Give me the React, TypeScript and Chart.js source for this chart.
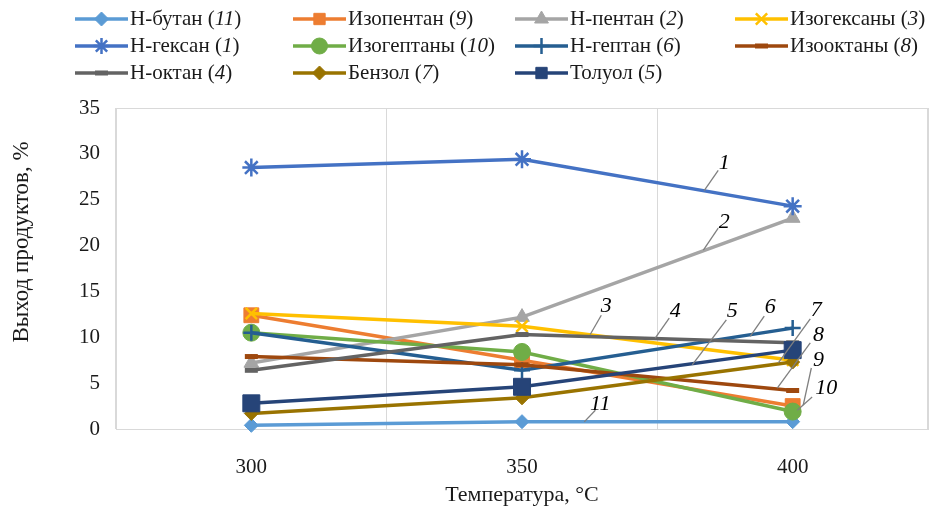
import React, { useEffect, useRef } from "react";
import { Chart, registerables } from "chart.js";
import { drawPoint } from "chart.js/helpers";

Chart.register(...registerables);

// ---------- data ----------
const temperatures = ["300", "350", "400"];

const seriesNames = [
  "Н-бутан", "Изопентан", "Н-пентан", "Изогексаны",
  "Н-гексан", "Изогептаны", "Н-гептан", "Изооктаны",
  "Н-октан", "Бензол", "Толуол",
];
const seriesNumbers = ["11", "9", "2", "3", "1", "10", "6", "8", "4", "7", "5"];

const nButane = [0.4, 0.8, 0.8];
const isopentane = [12.4, 7.5, 2.5];
const nPentane = [7.2, 12.2, 23.0];
const isohexanes = [12.6, 11.2, 7.5];
const nHexane = [28.5, 29.4, 24.3];
const isoheptanes = [10.5, 8.4, 1.9];
const nHeptane = [10.5, 6.4, 11.0];
const isooctanes = [7.9, 7.0, 4.2];
const nOctane = [6.4, 10.3, 9.4];
const benzene = [1.7, 3.4, 7.3];
const toluene = [2.8, 4.6, 8.6];

const seriesValues = [
  nButane, isopentane, nPentane, isohexanes, nHexane, isoheptanes,
  nHeptane, isooctanes, nOctane, benzene, toluene,
];

const yTicks = [0, 5, 10, 15, 20, 25, 30, 35];

// curve number labels: text, anchor (category index, value), leader start, leader end
const curveLabels = ["1", "2", "3", "4", "5", "6", "7", "8", "9", "10", "11"];
const labelTextPos = [
  [1.747, 29.0], [1.747, 22.6], [1.311, 13.4], [1.566, 12.8], [1.777, 12.8],
  [1.917, 13.3], [2.087, 13.0], [2.095, 10.25], [2.095, 7.5], [2.124, 4.5], [1.289, 2.7],
];
const leaderFrom = [
  [1.673, 26.0], [1.670, 19.5], [1.252, 10.3], [1.492, 9.9], [1.629, 7.0],
  [1.843, 10.1], [1.947, 7.2], [1.943, 4.45], [2.039, 2.6], [2.017, 2.05], [1.230, 0.78],
];
const leaderTo = [
  [1.725, 28.2], [1.725, 21.9], [1.293, 12.4], [1.544, 12.1], [1.755, 11.9],
  [1.895, 12.3], [2.065, 12.0], [2.065, 9.4], [2.069, 6.65], [2.072, 3.5], [1.271, 2.05],
];

// ---------- styles ----------
const colors = [
  "#5B9BD5", "#ED7D31", "#A5A5A5", "#FFC000", "#4472C4", "#70AD47",
  "#255E91", "#9E480E", "#636363", "#997300", "#264478",
];
const pointStyles = [
  "rectRot", "rect", "triangle", "crossRot", "star", "circle",
  "cross", "line", "line", "rectRot", "rect",
];
const pointRadii = [7, 10.5, 8.5, 8, 9, 8.5, 8, 6.5, 6.5, 7, 12];
const pointBorderWidths = [1, 1, 1, 2.5, 2.5, 1, 2.5, 5, 5, 1, 1];

const SERIF = "'Liberation Serif', 'Times New Roman', serif";
const TEXT_COLOR = "#1a1a1a";
const GRID_COLOR = "#d9d9d9";

const legendCols = [75, 293, 515, 735];
const legendRows = [19, 46, 73];

const frameAndLabelsPlugin = {
  id: "frameAndLabels",
  beforeDatasetsDraw(chart: any) {
    const { ctx, chartArea } = chart;
    ctx.save();
    ctx.strokeStyle = GRID_COLOR;
    ctx.lineWidth = 1;
    ctx.strokeRect(chartArea.left + 0.5, chartArea.top + 0.5, chartArea.right - chartArea.left - 1, chartArea.bottom - chartArea.top);
    ctx.restore();
  },
  afterDatasetsDraw(chart: any) {
    const { ctx } = chart;
    const xs = chart.scales.x;
    const ys = chart.scales.y;
    ctx.save();
    ctx.strokeStyle = "#7f7f7f";
    ctx.lineWidth = 1.3;
    ctx.fillStyle = "#000";
    ctx.font = `italic 22px ${SERIF}`;
    ctx.textAlign = "center";
    ctx.textBaseline = "middle";
    curveLabels.forEach((t, i) => {
      ctx.beginPath();
      ctx.moveTo(xs.getPixelForValue(leaderFrom[i][0]), ys.getPixelForValue(leaderFrom[i][1]));
      ctx.lineTo(xs.getPixelForValue(leaderTo[i][0]), ys.getPixelForValue(leaderTo[i][1]));
      ctx.stroke();
      ctx.fillText(t, xs.getPixelForValue(labelTextPos[i][0]), ys.getPixelForValue(labelTextPos[i][1]));
    });
    ctx.restore();
  },
  afterDraw(chart: any) {
    const { ctx } = chart;
    ctx.save();
    // legend
    ctx.textBaseline = "middle";
    ctx.textAlign = "left";
    seriesNames.forEach((name, i) => {
      const col = i % 4;
      const row = Math.floor(i / 4);
      const x0 = legendCols[col];
      const y = legendRows[row];
      const len = 53;
      ctx.strokeStyle = colors[i];
      ctx.lineWidth = 3.5;
      ctx.beginPath();
      ctx.moveTo(x0, y);
      ctx.lineTo(x0 + len, y);
      ctx.stroke();
      ctx.fillStyle = colors[i];
      ctx.strokeStyle = colors[i];
      ctx.lineWidth = pointBorderWidths[i];
      drawPoint(ctx, {
        pointStyle: pointStyles[i],
        radius: Math.min(pointRadii[i], 8),
        rotation: 0,
        borderWidth: pointBorderWidths[i],
      } as any, x0 + len / 2, y);
      let tx = x0 + len + 2;
      ctx.fillStyle = TEXT_COLOR;
      ctx.font = `21px ${SERIF}`;
      const a = name + " (";
      ctx.fillText(a, tx, y);
      tx += ctx.measureText(a).width;
      ctx.font = `italic 21px ${SERIF}`;
      ctx.fillText(seriesNumbers[i], tx, y);
      tx += ctx.measureText(seriesNumbers[i]).width;
      ctx.font = `21px ${SERIF}`;
      ctx.fillText(")", tx, y);
    });
    // y-axis title
    ctx.translate(22, 242);
    ctx.rotate(-Math.PI / 2);
    ctx.textAlign = "center";
    ctx.font = `23px ${SERIF}`;
    ctx.fillStyle = TEXT_COLOR;
    ctx.fillText("Выход продуктов, %", 0, 0);
    ctx.restore();
  },
};

export default function App() {
  const ref = useRef<HTMLCanvasElement | null>(null);

  useEffect(() => {
    document.body.style.margin = "0";
    document.body.style.overflow = "hidden";
    const canvas = ref.current;
    if (!canvas) return;
    const chart = new Chart(canvas, {
      type: "line",
      data: {
        labels: temperatures,
        datasets: seriesNames.map((name, i) => ({
          label: `${name} (${seriesNumbers[i]})`,
          data: seriesValues[i],
          borderColor: colors[i],
          backgroundColor: colors[i],
          borderWidth: 3.5,
          tension: 0,
          pointStyle: pointStyles[i] as any,
          pointRadius: pointRadii[i],
          pointBorderWidth: pointBorderWidths[i],
          pointBackgroundColor: colors[i],
          pointBorderColor: colors[i],
          order: -i,
          clip: false as any,
        })),
      },
      options: {
        responsive: false,
        animation: false,
        layout: { autoPadding: false, padding: { top: 108, right: 3, left: 0, bottom: 0 } },
        plugins: {
          legend: { display: false },
          tooltip: { enabled: false },
        },
        scales: {
          x: {
            type: "category",
            offset: true,
            grid: { offset: true, color: GRID_COLOR, drawTicks: false },
            border: { display: true, color: GRID_COLOR },
            ticks: { padding: 26, color: TEXT_COLOR, font: { family: SERIF, size: 21 } },
            title: {
              display: true,
              text: "Температура, °C",
              color: TEXT_COLOR,
              font: { family: SERIF, size: 22 },
              padding: { top: 0, bottom: 0 },
            },
            afterFit: (s: any) => { s.height = 79; s.paddingLeft = 0; s.paddingRight = 0; },
          },
          y: {
            type: "linear",
            min: 0,
            max: 35,
            afterBuildTicks: (s: any) => { s.ticks = yTicks.map((v) => ({ value: v })); },
            grid: { display: false, drawTicks: false },
            border: { display: true, color: GRID_COLOR },
            ticks: { padding: 16, color: TEXT_COLOR, font: { family: SERIF, size: 21 } },
            afterFit: (s: any) => { s.width = 116; s.paddingTop = 0; s.paddingBottom = 0; },
          },
        },
      },
      plugins: [frameAndLabelsPlugin],
    });
    return () => chart.destroy();
  }, []);

  return (
    <div style={{ width: 931, height: 508, background: "#fff" }}>
      <canvas ref={ref} width={931} height={508} style={{ display: "block" }} />
    </div>
  );
}
